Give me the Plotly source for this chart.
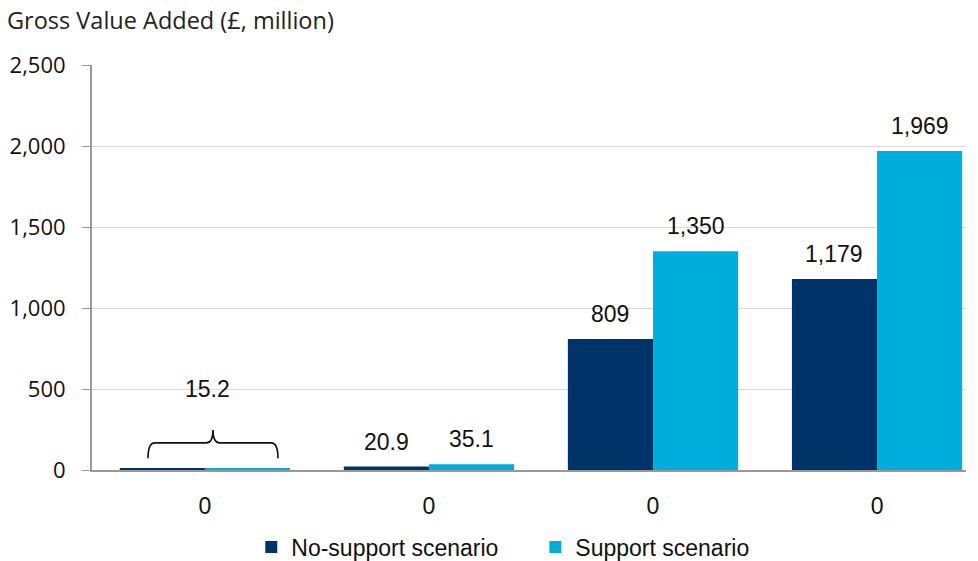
import plotly.graph_objects as go

categories = ["0", "0", "0", "0"]
no_support = [7.6, 20.9, 809, 1179]
support = [7.6, 35.1, 1350, 1969]
series_names = ["No-support scenario", "Support scenario"]
first_group_total_label = "15.2"
y_ticks = [0, 500, 1000, 1500, 2000, 2500]

dark = "#003468"
light = "#00AEDC"
xs = list(range(len(categories)))
bw = 0.38

fig = go.Figure()
fig.add_trace(go.Bar(x=xs, y=no_support, name=series_names[0] + "\u00a0" * 5,
                     marker_color=dark, marker_line_width=0))
fig.add_trace(go.Bar(x=xs, y=support, name=series_names[1],
                     marker_color=light, marker_line_width=0))

font_arial = "Arial, Liberation Sans, sans-serif"
font_segoe = "Open Sans, Noto Sans, sans-serif"
# value labels (skip first group, which gets a combined bracket label)
for i in range(1, len(categories)):
    for val, off in ((no_support[i], -bw / 2), (support[i], bw / 2)):
        lab = f"{val:,.1f}" if val < 100 else f"{val:,.0f}"
        fig.add_annotation(x=i + off, y=val, text=lab, showarrow=False, yanchor="bottom",
                           yshift=10, font=dict(family=font_arial, size=23, color="#111111"))

# bracket over first group
top = max(no_support[0], support[0])
xc = 0.036
half = 0.29
x0, x1 = xc - half, xc + half
ylow, ymid, ytop = top + 65, top + 160, top + 240
path = (f"M {x0},{ylow} Q {x0},{ymid} {x0+0.03},{ymid} L {xc-0.03},{ymid} Q {xc},{ymid} {xc},{ytop} "
        f"Q {xc},{ymid} {xc+0.03},{ymid} L {x1-0.03},{ymid} Q {x1},{ymid} {x1},{ylow}")
fig.add_shape(type="path", path=path, xref="x", yref="y", line=dict(color="#111111", width=1.6))
fig.add_annotation(x=0.01, y=top + 490, text=first_group_total_label, showarrow=False,
                   font=dict(family=font_arial, size=23, color="#111111"))

fig.add_annotation(xref="paper", yref="paper", x=-0.1, y=1.0, yshift=45, xanchor="left", yanchor="middle",
                   text="Gross Value Added (£, million)", showarrow=False,
                   font=dict(family=font_segoe, size=23.5, color="#222222"))

fig.update_layout(
    width=978, height=561,
    margin=dict(l=92, r=12, t=65, b=91, autoexpand=False),
    paper_bgcolor="white", plot_bgcolor="white",
    barmode="group", bargap=0.24, bargroupgap=0,
    legend=dict(orientation="h", x=0.47, xanchor="center", yref="container", y=0.025, yanchor="middle",
                font=dict(family=font_arial, size=23, color="#111111"), itemwidth=30,
                traceorder="normal"),
    xaxis=dict(tickvals=xs, ticktext=categories, range=[-0.504, 3.397], automargin=False,
               showgrid=False, showline=True, linecolor="#999999", linewidth=2, ticks="",
               ticklabelstandoff=14,
               tickfont=dict(family=font_arial, size=23, color="#111111"), zeroline=False),
    yaxis=dict(range=[0, 2500], tickvals=y_ticks, tickformat=",", showgrid=True, automargin=False,
               gridcolor="#d9d9d9", gridwidth=1, showline=True, linecolor="#999999", linewidth=2,
               ticks="outside", ticklen=8, tickcolor="#999999", zeroline=False,
               ticklabelstandoff=12,
               tickfont=dict(family=font_segoe, size=22, color="#111111")),
)
fig.write_html("out.html")
